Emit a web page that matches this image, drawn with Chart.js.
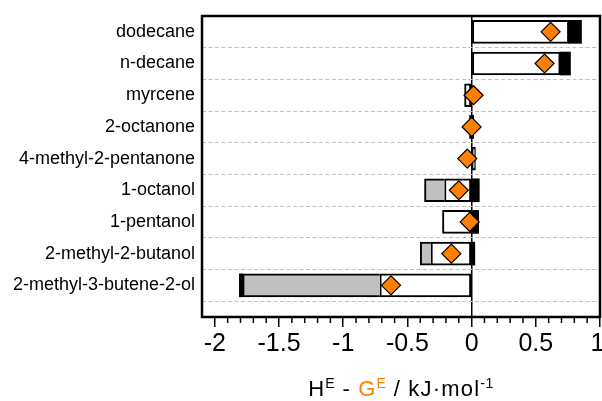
<!DOCTYPE html>
<html>
<head>
<meta charset="utf-8">
<script src="https://cdn.jsdelivr.net/npm/chart.js@4/dist/chart.umd.min.js"></script>
<style>
  body { margin: 0; background: #fff; overflow: hidden; }
  #wrap { position: relative; width: 602px; height: 401px; }
  #axisTitle {
    position: absolute; left: 202px; width: 398px; top: 378px;
    text-align: center; font: 22px 'Liberation Sans', Arial, sans-serif;
    letter-spacing: 1.2px; line-height: 22px; color: #000; white-space: nowrap;
  }
  #axisTitle .sup { font-size: 14px; position: relative; top: -8px; letter-spacing: 0.5px; }
  #axisTitle .orange { color: #ff8000; }
</style>
</head>
<body>
<div id="wrap">
  <canvas id="chart" width="602" height="401"></canvas>
  <div id="axisTitle">H<span class="sup">E</span> - <span class="orange">G<span class="sup">E</span></span> / kJ·mol<span class="sup">-1</span></div>
</div>
<script>
const categories = ['dodecane', 'n-decane', 'myrcene', '2-octanone', '4-methyl-2-pentanone',
  '1-octanol', '1-pentanol', '2-methyl-2-butanol', '2-methyl-3-butene-2-ol'];

// floating segments [start, end] per row, null where a row has none
const whiteBars = [[0, 0.757], [0, 0.69], [-0.055, 0], null, [0, 0.03],
  [-0.211, 0], [-0.227, 0], [-0.317, 0], [-0.715, 0]];
const grayBars = [null, null, null, null, null,
  [-0.367, -0.211], null, [-0.40, -0.317], [-1.783, -0.715]];
const blackBars = [[0.757, 0.856], [0.69, 0.77], null, [-0.016, 0.016], null,
  [0, 0.06], [0, 0.055], [-0.005, 0.025], [-1.809, -1.783]];

// H^E - G^E markers
const diamonds = [0.615, 0.568, 0.015, 0, -0.034, -0.10, -0.015, -0.158, -0.628];

const xTickValues = [-2, -1.5, -1, -0.5, 0, 0.5, 1];

const ORANGE = '#ff8000';
const FONT = "'Liberation Sans', Arial, sans-serif";

function toBars(pairs) {
  return pairs.map((p, i) => p ? { y: i, x: p } : null).filter(Boolean);
}

// frame around the plot + minor ticks on the x axis
const framePlugin = {
  id: 'frame',
  afterDraw(chart) {
    const { ctx, chartArea: a } = chart;
    const xs = chart.scales.x;
    ctx.save();
    ctx.strokeStyle = '#000';
    ctx.lineWidth = 1.5;
    for (let k = -20; k < 10; k++) {
      if (k % 5 === 0) continue;
      const px = xs.getPixelForValue(k / 10);
      ctx.beginPath();
      ctx.moveTo(px, a.bottom);
      ctx.lineTo(px, a.bottom + 6);
      ctx.stroke();
    }
    ctx.lineWidth = 2.5;
    ctx.strokeRect(a.left, a.top, a.right - a.left, a.bottom - a.top);
    ctx.restore();
  }
};

new Chart(document.getElementById('chart'), {
  type: 'bar',
  data: {
    datasets: [
      {
        type: 'line',
        data: diamonds.map((v, i) => ({ x: v, y: i })),
        showLine: false,
        pointStyle: 'rectRot',
        pointRadius: 9.5,
        pointBackgroundColor: ORANGE,
        pointBorderColor: '#000',
        pointBorderWidth: 1.2,
        order: 0
      },
      {
        data: toBars(blackBars),
        backgroundColor: '#000',
        borderColor: '#000',
        borderWidth: 0,
        order: 1
      },
      {
        data: toBars(grayBars),
        backgroundColor: '#c0c0c0',
        borderColor: '#000',
        borderWidth: { top: 2, bottom: 2, left: 2, right: 0 },
        order: 2
      },
      {
        data: toBars(whiteBars),
        backgroundColor: '#fff',
        borderColor: '#000',
        borderWidth: 2,
        order: 3
      }
    ]
  },
  options: {
    indexAxis: 'y',
    responsive: false,
    animation: false,
    layout: { autoPadding: false, padding: { top: 16, right: 2, left: 0, bottom: 0 } },
    datasets: {
      bar: { barThickness: 23, grouped: false, borderSkipped: false }
    },
    plugins: { legend: { display: false }, tooltip: { enabled: false } },
    scales: {
      x: {
        type: 'linear',
        min: -2.1,
        max: 1,
        offset: false,
        z: 1,
        afterBuildTicks: (scale) => { scale.ticks = xTickValues.map(v => ({ value: v })); },
        afterFit: (scale) => {
          scale.height = 84;
          scale.paddingLeft = 0;
          scale.paddingRight = 0;
        },
        border: { display: false },
        grid: {
          offset: false,
          color: (c) => c.tick && c.tick.value === 0 ? '#000' : 'rgba(0,0,0,0)',
          lineWidth: 1.5,
          tickColor: '#000',
          tickWidth: 1.5,
          tickLength: 10
        },
        ticks: {
          color: '#000',
          padding: 2,
          autoSkip: false,
          maxRotation: 0,
          font: { family: FONT, size: 25 },
          // last label sits on the frame edge; a thin trailing space keeps it inside the canvas
          callback: (v, i, ticks) => i === ticks.length - 1 ? String(v) + '\u2009' : String(v)
        }
      },
      y: {
        type: 'linear',
        min: -0.5,
        max: 9,
        reverse: true,
        offset: false,
        afterBuildTicks: (scale) => {
          const t = [];
          for (let i = 0; i < categories.length; i++) t.push({ value: i }, { value: i + 0.5 });
          scale.ticks = t;
        },
        afterFit: (scale) => {
          scale.width = 202;
          scale.paddingTop = 0;
          scale.paddingBottom = 0;
        },
        border: { display: false, dash: [4, 2.5] },
        grid: {
          offset: false,
          drawTicks: false,
          color: (c) => c.tick && !Number.isInteger(c.tick.value) ? '#c0c0c0' : 'rgba(0,0,0,0)',
          lineWidth: 1
        },
        ticks: {
          color: '#000',
          padding: 7,
          autoSkip: false,
          font: { family: FONT, size: 18 },
          callback: (v) => Number.isInteger(v) ? categories[v] : ''
        }
      }
    }
  },
  plugins: [framePlugin]
});
</script>
</body>
</html>
